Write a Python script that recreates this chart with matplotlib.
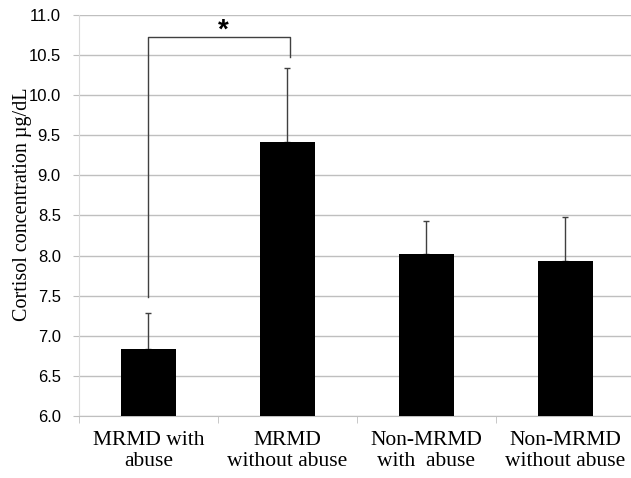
import numpy as np
import matplotlib.pyplot as plt

# data
groups = ["MRMD with\nabuse", "MRMD\nwithout abuse", "Non-MRMD\nwith  abuse", "Non-MRMD\nwithout abuse"]
means = [6.83, 9.41, 8.02, 7.93]
upper_err = [0.46, 0.93, 0.41, 0.55]

# significance bracket between group 1 and group 2
bracket_x = [0.0, 1.02]
bracket_y = [7.48, 10.72, 10.47]
y_ticks = np.arange(6.0, 11.01, 0.5)

fig = plt.figure(figsize=(6.31, 4.78), dpi=100)
ax = fig.add_axes([0.125, 0.1297, 0.881, 0.839])

x = np.arange(len(groups))
ax.bar(x, means, width=0.4, color="black", zorder=3)
ax.errorbar(x, means, yerr=[np.zeros(len(means)), upper_err], fmt="none",
            ecolor="#404040", elinewidth=1, capsize=2.5, capthick=1, zorder=2)

# bracket
ax.plot([bracket_x[0], bracket_x[0], bracket_x[1], bracket_x[1]],
        [bracket_y[0], bracket_y[1], bracket_y[1], bracket_y[2]],
        color="#404040", lw=1, zorder=2)
ax.text(0.54, 10.8, "*", ha="center", va="center",
        fontsize=20, fontweight="bold", family="Liberation Sans")

ax.set_xlim(-0.5, 3.5)
ax.set_ylim(6.0, 11.0)
ax.set_yticks(y_ticks)
ax.set_yticklabels([f"{v:.1f}" for v in y_ticks], family="Liberation Sans", fontsize=12)
ax.yaxis.grid(True, color="#bfbfbf", lw=1)
ax.set_axisbelow(True)
ax.tick_params(axis="y", length=4, color="#bfbfbf", pad=9)

ax.set_xticks(x)
ax.set_xticklabels(groups, family="Liberation Serif", fontsize=15.5, linespacing=1.1)
ax.set_xticks(np.arange(-0.5, 4.0, 1.0), minor=True)
ax.tick_params(axis="x", which="major", length=0, pad=11)
ax.tick_params(axis="x", which="minor", length=5, color="#bfbfbf")

for s in ["top", "right"]:
    ax.spines[s].set_visible(False)
ax.spines["bottom"].set_color("#bfbfbf")
ax.spines["left"].set_color("#d9d9d9")

ax.set_ylabel("Cortisol concentration µg/dL", family="Liberation Serif", fontsize=14.5)
ax.yaxis.set_label_coords(-0.085, 0.529)

fig.savefig("out.png", dpi=100)
